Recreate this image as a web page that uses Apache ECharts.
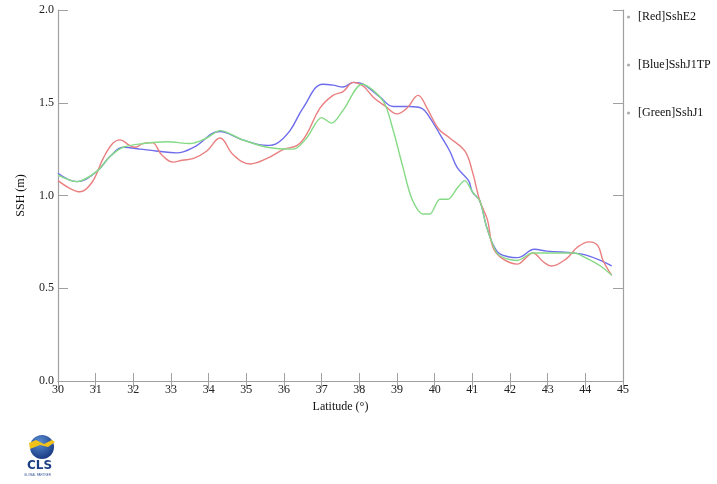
<!DOCTYPE html>
<html>
<head>
<meta charset="utf-8">
<script src="https://cdn.jsdelivr.net/npm/echarts@6/dist/echarts.min.js"></script>
<style>
html,body{margin:0;padding:0;background:#fff;}
#chart{width:717px;height:484px;}
</style>
</head>
<body>
<div id="chart"></div>
<script>
var seriesNames = ['[Red]SshE2', '[Blue]SshJ1TP', '[Green]SshJ1'];
var xTicks = [30,31,32,33,34,35,36,37,38,39,40,41,42,43,44,45];
var yTicks = ['0.0','0.5','1.0','1.5','2.0'];

var redLat = [30.0,30.3,30.58,30.9,31.2,31.45,31.65,31.9,32.05,32.25,32.5,32.75,33.05,33.3,33.6,33.95,34.3,34.65,35.1,35.55,36.0,36.35,36.6,36.95,37.3,37.57,37.84,38.1,38.37,38.7,39.0,39.26,39.56,39.8,40.1,40.4,40.8,41.0,41.2,41.4,41.55,41.8,42.2,42.4,42.6,42.9,43.1,43.5,43.78,44.1,44.33,44.47,44.7];
var redVal = [1.08,1.04,1.02,1.07,1.2,1.28,1.30,1.27,1.26,1.28,1.285,1.22,1.18,1.19,1.20,1.24,1.31,1.22,1.17,1.20,1.25,1.27,1.33,1.47,1.54,1.56,1.61,1.59,1.53,1.48,1.44,1.47,1.54,1.47,1.36,1.31,1.24,1.13,0.97,0.87,0.72,0.66,0.63,0.66,0.69,0.64,0.62,0.66,0.72,0.75,0.73,0.65,0.57];

var blueLat = [30.0,30.5,31.03,31.38,31.73,32.18,32.6,33.15,33.6,34.3,34.9,35.55,35.8,36.16,36.5,37.03,37.3,37.57,37.85,38.1,38.55,38.9,39.34,39.66,39.87,40.14,40.4,40.6,40.9,41.0,41.2,41.38,41.65,41.95,42.2,42.65,42.98,43.7,44.0,44.4,44.7];
var blueVal = [1.12,1.075,1.13,1.21,1.26,1.25,1.24,1.23,1.26,1.345,1.30,1.27,1.28,1.35,1.47,1.60,1.595,1.585,1.61,1.60,1.53,1.48,1.48,1.47,1.42,1.33,1.24,1.15,1.08,1.02,0.97,0.83,0.70,0.67,0.665,0.71,0.70,0.69,0.68,0.65,0.62];

var greenLat = [30.0,30.5,31.03,31.38,31.73,32.26,32.9,33.5,33.95,34.3,34.9,35.55,36.25,36.6,37.0,37.26,37.57,38.07,38.63,38.9,39.16,39.4,39.7,39.87,40.14,40.35,40.6,40.8,41.0,41.2,41.38,41.65,41.9,42.2,42.6,43.15,43.7,44.0,44.4,44.7];
var greenVal = [1.11,1.075,1.13,1.21,1.26,1.28,1.29,1.28,1.31,1.35,1.30,1.26,1.25,1.31,1.42,1.39,1.46,1.60,1.51,1.35,1.15,0.98,0.90,0.90,0.98,0.98,1.04,1.08,1.02,0.97,0.83,0.69,0.66,0.65,0.69,0.69,0.69,0.665,0.62,0.57];

function pairs(xs, ys){ return xs.map(function(x,i){ return [x, ys[i]]; }); }

var font = '"Liberation Serif", "DejaVu Serif", serif';
var axisGray = '#a0a0a0';

var chart = echarts.init(document.getElementById('chart'), null, {renderer:'canvas'});
chart.setOption({
  animation: false,
  backgroundColor: '#fff',
  grid: {left: 58, right: 94, top: 10, bottom: 103, containLabel: false},
  legend: {
    orient: 'vertical',
    left: 622, top: 6,
    itemGap: 36,
    icon: 'circle',
    itemWidth: 3, itemHeight: 3,
    textStyle: {fontFamily: font, fontSize: 12, color: '#111', padding:[0,0,0,3]},
    data: seriesNames.map(function(n){ return {name: n, itemStyle: {color: '#aaa'}}; })
  },
  xAxis: [{
    type: 'value', min: xTicks[0], max: xTicks[xTicks.length-1], interval: 1,
    name: 'Latitude (°)', nameLocation: 'middle', nameGap: 17,
    nameTextStyle: {fontFamily: font, fontSize: 12, color: '#111'},
    axisLine: {lineStyle: {color: axisGray, width: 1.2}},
    axisTick: {inside: true, length: 8, lineStyle: {color: axisGray}},
    axisLabel: {fontFamily: font, fontSize: 12, color: '#222', margin: 3},
    splitLine: {show: false}
  }, {
    type: 'value', position: 'top', min: xTicks[0], max: xTicks[xTicks.length-1], interval: 1,
    axisLine: {lineStyle: {color: axisGray, width: 1.2}},
    axisTick: {inside: true, length: 8, lineStyle: {color: axisGray}},
    axisLabel: {show: false}, splitLine: {show: false}
  }],
  yAxis: [{
    type: 'value', min: 0, max: 2, interval: 0.5,
    name: 'SSH (m)', nameLocation: 'middle', nameGap: 31, nameRotate: 90,
    nameTextStyle: {fontFamily: font, fontSize: 12, color: '#111'},
    axisLine: {show: true, lineStyle: {color: axisGray, width: 1.2}},
    axisTick: {show: true, inside: true, length: 10, lineStyle: {color: axisGray}},
    axisLabel: {fontFamily: font, fontSize: 12, color: '#222', margin: 4,
      formatter: function(v){ return yTicks[Math.round(v*2)]; }},
    splitLine: {show: false}
  }, {
    type: 'value', position: 'right', min: 0, max: 2, interval: 0.5,
    axisLine: {show: true, lineStyle: {color: axisGray, width: 1.2}},
    axisTick: {show: true, inside: true, length: 10, lineStyle: {color: axisGray}},
    axisLabel: {show: false}, splitLine: {show: false}
  }],
  series: [
    {name: seriesNames[0], type: 'line', data: pairs(redLat, redVal), smooth: 0.4, showSymbol: false,
     lineStyle: {color: '#ea7f80', width: 1.4}, itemStyle: {color: '#ea7f80'}, z: 3},
    {name: seriesNames[1], type: 'line', data: pairs(blueLat, blueVal), smooth: 0.4, showSymbol: false,
     lineStyle: {color: '#6d6cec', width: 1.4}, itemStyle: {color: '#6d6cec'}, z: 2},
    {name: seriesNames[2], type: 'line', data: pairs(greenLat, greenVal), smooth: 0.3, showSymbol: false,
     lineStyle: {color: '#86da86', width: 1.4}, itemStyle: {color: '#86da86'}, z: 4}
  ],
  graphic: [
    {type: 'circle', shape: {cx: 42, cy: 447, r: 12},
     style: {fill: new echarts.graphic.RadialGradient(0.4, 0.3, 0.8, [{offset:0,color:'#5a8fd0'},{offset:1,color:'#12307a'}])}},
    {type: 'polygon', shape: {points: [[29,443],[36,440],[44,444],[52,440],[55,442],[48,447],[40,445],[30,449]]}, style: {fill: '#f2c21b'}},
    {type: 'text', left: 27, top: 460, style: {text: 'CLS', font: 'bold 12px "DejaVu Sans", sans-serif', fill: '#1c3e84'}},
    {type: 'text', left: 24, top: 474, style: {text: 'GLOBAL PARTNER', font: '3px sans-serif', fill: '#3a5a99'}}
  ]
});
</script>
</body>
</html>
